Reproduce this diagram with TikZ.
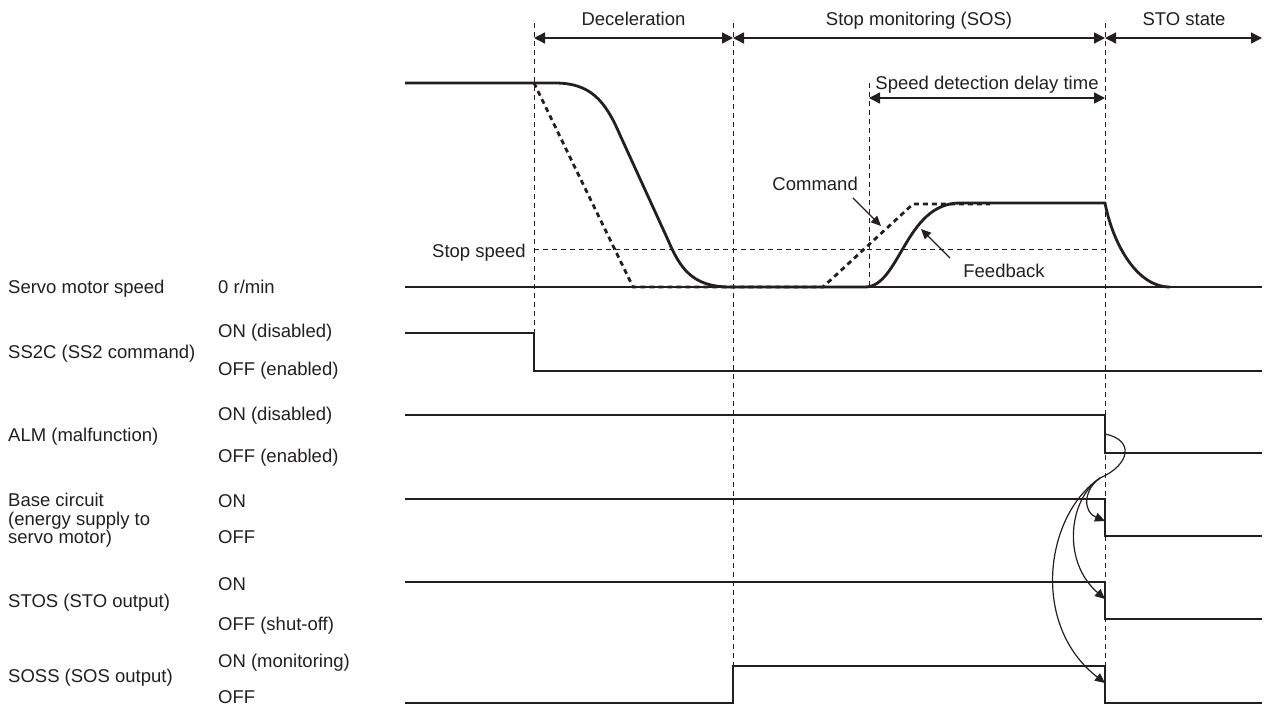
\documentclass[tikz,border=0pt]{standalone}
\usepackage{fontspec}
\setmainfont{Liberation Sans}
\usepackage{tikz}
\usepackage{xcolor}
\usetikzlibrary{arrows.meta}
\definecolor{chartink}{RGB}{35,31,32}

\begin{document}
\begin{tikzpicture}[
    x=1pt, y=-1pt,
    every node/.style={inner sep=0pt, text=chartink,
                       font=\fontsize{18.5}{22}\selectfont},
    lbl/.style={anchor=base west},
    sig/.style={draw=chartink, line width=1.4pt},
    guide/.style={draw=chartink, line width=1pt, dash pattern=on 5pt off 4pt},
    fb/.style={draw=chartink, line width=2.8pt},
    cmd/.style={draw=chartink, line width=2.8pt, dash pattern=on 5pt off 4pt},
    span/.style={draw=chartink, line width=1.4pt,
                 {Triangle[length=11pt,width=11pt]}-{Triangle[length=11pt,width=11pt]}},
    pointer/.style={draw=chartink, line width=1.2pt, -{Triangle[length=10pt,width=9pt]}},
]
\useasboundingbox (0,0) rectangle (1266,713);

\coordinate (t1) at (534,0);
\coordinate (t2) at (733,0);
\coordinate (t3) at (869,0);
\coordinate (t4) at (1105,0);
\coordinate (tend) at (1262,0);

\node[lbl] (speedname) at (8,293) {Servo motor speed};
\node[lbl] (speedzero) at (218,293) {0 r/min};
\node[lbl] (ssname) at (8,358) {SS2C (SS2 command)};
\node[lbl] (sson) at (218,337) {ON (disabled)};
\node[lbl] (ssoff) at (218,375) {OFF (enabled)};
\node[lbl] (almname) at (8,441) {ALM (malfunction)};
\node[lbl] (almon) at (218,420) {ON (disabled)};
\node[lbl] (almoff) at (218,462) {OFF (enabled)};
\node[lbl, align=left, anchor=north west, font=\fontsize{18.5}{18.5}\selectfont]
  (basename) at (8,493) {Base circuit\\(energy supply to\\servo motor)};
\node[lbl] (baseon) at (218,507) {ON};
\node[lbl] (baseoff) at (218,543) {OFF};
\node[lbl] (stoname) at (8,607) {STOS (STO output)};
\node[lbl] (stoon) at (218,590) {ON};
\node[lbl] (stooff) at (218,630) {OFF (shut-off)};
\node[lbl] (sosname) at (8,682) {SOSS (SOS output)};
\node[lbl] (soson) at (218,667) {ON (monitoring)};
\node[lbl] (sosoff) at (218,703) {OFF};

\draw[guide] (534,23) -- (534,333);
\draw[guide] (733,23) -- (733,666);
\draw[guide] (869,83) -- (869,287);
\draw[guide] (1105,23) -- (1105,666);
\draw[guide] (534,249) -- (1105,249);
\node[anchor=base east] (stopspeed) at (526,257) {Stop speed};

\draw[span] (534,38) -- (733,38);
\draw[span] (733,38) -- (1105,38);
\draw[span] (1105,38) -- (1262,38);
\node[anchor=base] (decel) at (633.5,25) {Deceleration};
\node[anchor=base] (sos) at (919,25) {Stop monitoring (SOS)};
\node[anchor=base] (sto) at (1184,25) {STO state};
\draw[span] (869,98) -- (1105,98);
\node[anchor=base] (delay) at (987,89) {Speed detection delay time};

\draw[sig] (405,287) -- (1262,287);
\draw[cmd] (534,83) -- (633,287) -- (823,287) -- (913,204) -- (990,204);
\draw[fb] (405,83) -- (555,83) .. controls (590,83) and (605,100) .. (620,135)
  -- (668,240) .. controls (680,268) and (692,287) .. (730,287) -- (865,287)
  .. controls (900,287) and (905,203) .. (960,203) -- (1105,203)
  .. controls (1112,240) and (1135,287) .. (1170,287);

\node[anchor=base east] (cmdlbl) at (858,190) {Command};
\coordinate (cmdfrom) at (853,198);
\coordinate (cmdto) at (881,226);
\draw[pointer] (cmdfrom) -- (cmdto);
\node[anchor=base] (fblbl) at (1004,277) {Feedback};
\coordinate (fbfrom) at (950,258);
\coordinate (fbto) at (921,229);
\draw[pointer] (fbfrom) -- (fbto);

\draw[sig] (405,333) -- (534,333) -- (534,371) -- (1262,371);
\draw[sig] (405,415) -- (1105,415) -- (1105,453) -- (1262,453);
\draw[sig] (405,499) -- (1105,499) -- (1105,536) -- (1262,536);
\draw[sig] (405,582) -- (1105,582) -- (1105,619) -- (1262,619);
\draw[sig] (405,703) -- (733,703) -- (733,666) -- (1105,666) -- (1105,703) -- (1262,703);

\coordinate (almfall) at (1105,434);
\coordinate (loop) at (1100,478);
\coordinate (basefall) at (1105,521);
\coordinate (stofall) at (1105,599);
\coordinate (sosfall) at (1105,683);
\draw[pointer] (almfall) .. controls (1135,440) and (1130,465) .. (loop)
  .. controls (1083,490) and (1083,512) .. (basefall);
\draw[pointer] (loop) .. controls (1068,500) and (1062,562) .. (stofall);
\draw[pointer] (loop) .. controls (1045,515) and (1030,625) .. (sosfall);

\end{tikzpicture}
\end{document}
